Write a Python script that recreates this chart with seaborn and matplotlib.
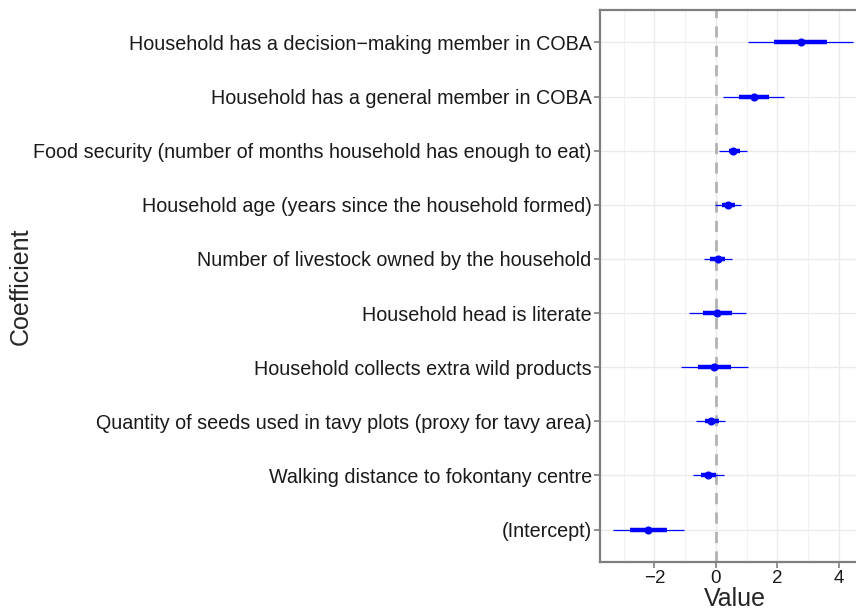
import matplotlib
matplotlib.use("Agg")
import matplotlib.pyplot as plt
import seaborn as sns
import pandas as pd
import numpy as np

# coefficients, top to bottom as drawn
coefficients = [
    "Household has a decision\u2212making member in COBA",
    "Household has a general member in COBA",
    "Food security (number of months household has enough to eat)",
    "Household age (years since the household formed)",
    "Number of livestock owned by the household",
    "Household head is literate",
    "Household collects extra wild products",
    "Quantity of seeds used in tavy plots (proxy for tavy area)",
    "Walking distance to fokontany centre",
    "(Intercept)",
]
value = [2.75, 1.23, 0.54, 0.40, 0.05, 0.03, -0.08, -0.17, -0.25, -2.21]
inner_low = [1.90, 0.74, 0.43, 0.18, -0.19, -0.41, -0.60, -0.37, -0.48, -2.79]
inner_high = [3.60, 1.73, 0.79, 0.61, 0.28, 0.51, 0.49, 0.09, 0.00, -1.60]
outer_low = [1.05, 0.23, 0.09, -0.02, -0.40, -0.87, -1.14, -0.65, -0.74, -3.36]
outer_high = [4.47, 2.22, 1.01, 0.83, 0.52, 0.98, 1.03, 0.29, 0.25, -1.03]

df = pd.DataFrame({
    "Coefficient": coefficients,
    "Value": value,
    "LowInner": inner_low,
    "HighInner": inner_high,
    "LowOuter": outer_low,
    "HighOuter": outer_high,
})

sns.set_style("whitegrid")
plt.rcParams["font.family"] = ["Liberation Sans", "DejaVu Sans"]

fig = plt.figure(figsize=(8.56, 6.10), dpi=100)
ax = fig.add_axes([0.701, 0.0787, 0.315, 0.905])

# dashed zero line
ax.axvline(0, color="#b3b3b3", lw=2, ls=(0, (4, 3)), zorder=2)

pos = np.arange(len(df))
ax.hlines(pos, df["LowOuter"], df["HighOuter"], color="#0000ff", lw=0.9, zorder=3)
ax.hlines(pos, df["LowInner"], df["HighInner"], color="#0000ff", lw=3.2, zorder=4)
sns.scatterplot(data=df, x="Value", y=pos, color="#0000ff", s=34, linewidth=0,
                zorder=5, ax=ax)

ax.set_xlim(-3.77, 5.0)
ax.set_ylim(len(df) - 0.4, -0.6)
ax.set_yticks(pos)
ax.set_yticklabels(df["Coefficient"], fontsize=14.25, color="#1a1a1a")
ax.set_xticks([-2, 0, 2, 4])
ax.set_xticklabels(["\u22122", "0", "2", "4"], fontsize=13.5, color="#1a1a1a")
ax.set_xticks([-3, -1, 1, 3], minor=True)

ax.grid(True, which="major", color="#ebebeb", lw=1.0)
ax.grid(True, which="minor", axis="x", color="#f2f2f2", lw=0.8)
ax.set_axisbelow(True)

for side in ["left", "bottom", "top"]:
    ax.spines[side].set_visible(True)
    ax.spines[side].set_color("#7f7f7f")
    ax.spines[side].set_linewidth(1.6)
ax.spines["right"].set_visible(False)
ax.tick_params(axis="both", which="major", length=4, width=1.2, color="#7f7f7f",
               left=True, bottom=True, pad=2)
ax.tick_params(axis="x", which="minor", length=0)

ax.set_xlabel("Value", fontsize=18, labelpad=0)
ax.set_ylabel("Coefficient", fontsize=18)
ax.yaxis.set_label_coords(-2.105, 0.5)

fig.savefig("out.png", dpi=100)
